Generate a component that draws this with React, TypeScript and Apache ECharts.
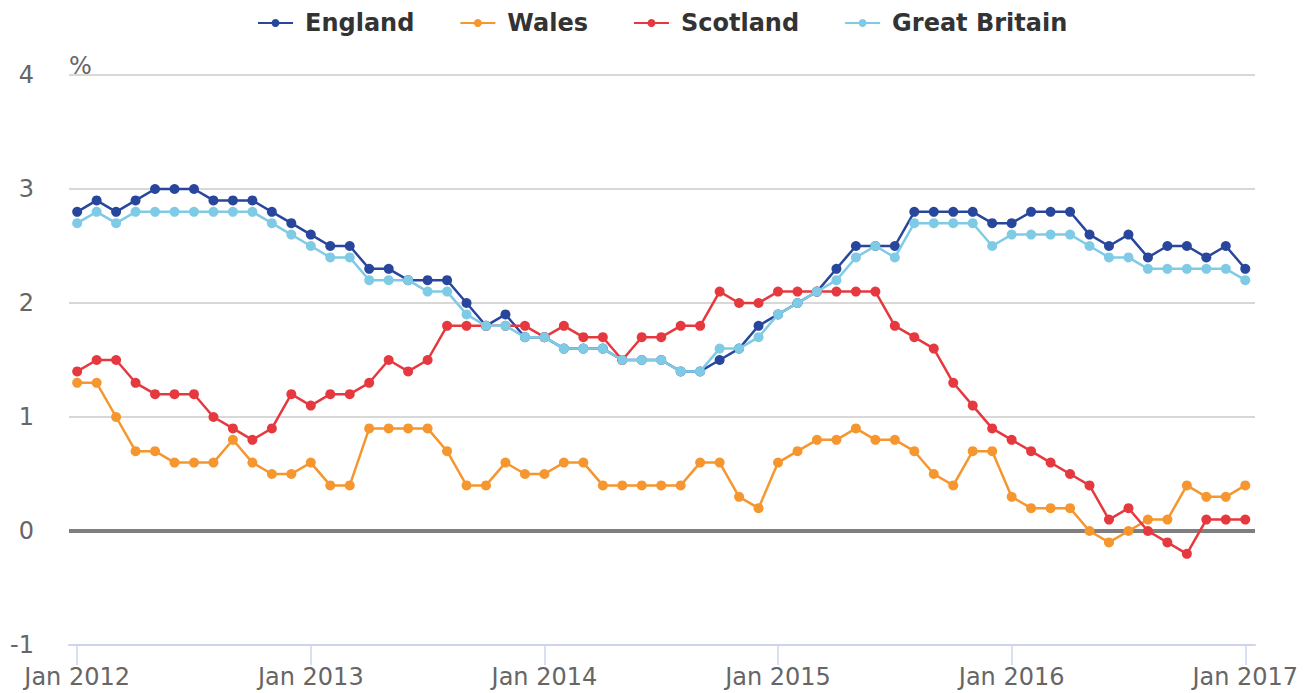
import React, { useEffect, useRef } from "react";
import * as echarts from "echarts";

const tickLabels = ["Jan 2012", "Jan 2013", "Jan 2014", "Jan 2015", "Jan 2016", "Jan 2017"];
const tickIndexes = [0, 12, 24, 36, 48, 60];

const england = [
  2.8, 2.9, 2.8, 2.9, 3.0, 3.0, 3.0, 2.9, 2.9, 2.9,
  2.8, 2.7, 2.6, 2.5, 2.5, 2.3, 2.3, 2.2, 2.2, 2.2,
  2.0, 1.8, 1.9, 1.7, 1.7, 1.6, 1.6, 1.6, 1.5, 1.5,
  1.5, 1.4, 1.4, 1.5, 1.6, 1.8, 1.9, 2.0, 2.1, 2.3,
  2.5, 2.5, 2.5, 2.8, 2.8, 2.8, 2.8, 2.7, 2.7, 2.8,
  2.8, 2.8, 2.6, 2.5, 2.6, 2.4, 2.5, 2.5, 2.4, 2.5, 2.3,
];
const wales = [
  1.3, 1.3, 1.0, 0.7, 0.7, 0.6, 0.6, 0.6, 0.8, 0.6,
  0.5, 0.5, 0.6, 0.4, 0.4, 0.9, 0.9, 0.9, 0.9, 0.7,
  0.4, 0.4, 0.6, 0.5, 0.5, 0.6, 0.6, 0.4, 0.4, 0.4,
  0.4, 0.4, 0.6, 0.6, 0.3, 0.2, 0.6, 0.7, 0.8, 0.8,
  0.9, 0.8, 0.8, 0.7, 0.5, 0.4, 0.7, 0.7, 0.3, 0.2,
  0.2, 0.2, 0.0, -0.1, 0.0, 0.1, 0.1, 0.4, 0.3, 0.3, 0.4,
];
const scotland = [
  1.4, 1.5, 1.5, 1.3, 1.2, 1.2, 1.2, 1.0, 0.9, 0.8,
  0.9, 1.2, 1.1, 1.2, 1.2, 1.3, 1.5, 1.4, 1.5, 1.8,
  1.8, 1.8, 1.8, 1.8, 1.7, 1.8, 1.7, 1.7, 1.5, 1.7,
  1.7, 1.8, 1.8, 2.1, 2.0, 2.0, 2.1, 2.1, 2.1, 2.1,
  2.1, 2.1, 1.8, 1.7, 1.6, 1.3, 1.1, 0.9, 0.8, 0.7,
  0.6, 0.5, 0.4, 0.1, 0.2, 0.0, -0.1, -0.2, 0.1, 0.1, 0.1,
];
const greatBritain = [
  2.7, 2.8, 2.7, 2.8, 2.8, 2.8, 2.8, 2.8, 2.8, 2.8,
  2.7, 2.6, 2.5, 2.4, 2.4, 2.2, 2.2, 2.2, 2.1, 2.1,
  1.9, 1.8, 1.8, 1.7, 1.7, 1.6, 1.6, 1.6, 1.5, 1.5,
  1.5, 1.4, 1.4, 1.6, 1.6, 1.7, 1.9, 2.0, 2.1, 2.2,
  2.4, 2.5, 2.4, 2.7, 2.7, 2.7, 2.7, 2.5, 2.6, 2.6,
  2.6, 2.6, 2.5, 2.4, 2.4, 2.3, 2.3, 2.3, 2.3, 2.3, 2.2,
];

const seriesNames = ["England", "Wales", "Scotland", "Great Britain"];
const seriesColors = ["#28469c", "#f5962f", "#e6393f", "#7fcbe5"];
const seriesValues = [england, wales, scotland, greatBritain];

const FONT = "DejaVu Sans";

// plot frame in pixels
const GRID_LEFT = 69;
const GRID_RIGHT = 56;
const GRID_TOP = 75;
const GRID_BOTTOM = 48;
const X_MIN = -0.42;
const X_MAX = 60.5;

export default function App() {
  const ref = useRef<HTMLDivElement>(null);
  useEffect(() => {
    document.body.style.margin = "0";
    const chart = echarts.init(ref.current!, null, { renderer: "svg" });
    const plotW = 1311 - GRID_LEFT - GRID_RIGHT;
    const pxPerUnit = plotW / (X_MAX - X_MIN);
    const innerLeft = GRID_LEFT + (0 - X_MIN) * pxPerUnit;
    const innerRight = 1311 - (GRID_LEFT + (60 - X_MIN) * pxPerUnit);

    const series: any[] = seriesValues.map((vals, si) => ({
      name: seriesNames[si],
      type: "line",
      xAxisIndex: 0,
      yAxisIndex: 0,
      data: vals.map((v, i) => [i, v]),
      symbol: "circle",
      symbolSize: 10,
      showSymbol: true,
      itemStyle: { color: seriesColors[si] },
      lineStyle: { color: seriesColors[si], width: 2.5 },
      z: 3 + si,
    }));
    series[0].markLine = {
      silent: true,
      symbol: "none",
      label: { show: false },
      lineStyle: { color: "#7f7f7f", width: 4, type: "solid" },
      data: [{ yAxis: 0 }],
      z: 2,
    };
    chart.setOption({
      animation: false,
      backgroundColor: "#ffffff",
      textStyle: { fontFamily: FONT },
      legend: {
        top: 6,
        left: 252,
        itemWidth: 35,
        itemHeight: 10,
        itemGap: 45,
        textStyle: {
          fontFamily: FONT,
          fontSize: 24,
          fontWeight: "bold",
          color: "#333333",
          padding: [0, 0, 0, 7],
        },
        data: seriesNames,
      },
      graphic: [
        {
          type: "text",
          left: 69,
          top: 54,
          style: { text: "%", fontFamily: FONT, fontSize: 24, fill: "#666666" },
        },
      ],
      grid: [
        { left: GRID_LEFT, right: GRID_RIGHT, top: GRID_TOP, bottom: GRID_BOTTOM, containLabel: false },
        { left: innerLeft, right: innerRight, top: GRID_TOP, bottom: GRID_BOTTOM, containLabel: false },
      ],
      xAxis: [
        {
          type: "value",
          gridIndex: 0,
          min: X_MIN,
          max: X_MAX,
          splitLine: { show: false },
          axisLine: { show: true, onZero: false, lineStyle: { color: "#ccd6eb", width: 2 } },
          axisTick: { show: false },
          axisLabel: { show: false },
        },
        {
          type: "value",
          gridIndex: 1,
          min: 0,
          max: 60,
          interval: 12,
          splitLine: { show: false },
          axisLine: { show: false, onZero: false },
          axisTick: { show: true, length: 20, lineStyle: { color: "#ccd6eb", width: 1.5 } },
          axisLabel: {
            formatter: (v: number) => tickLabels[tickIndexes.indexOf(Math.round(v))] ?? "",
            fontFamily: FONT,
            fontSize: 24,
            color: "#666666",
            margin: 20,
          },
        },
      ],
      yAxis: [
        {
          type: "value",
          gridIndex: 0,
          min: -1,
          max: 4,
          interval: 1,
          axisLine: { show: false },
          axisTick: { show: false },
          splitLine: { lineStyle: { color: "#d8d8d8", width: 2 } },
          axisLabel: {
            fontFamily: FONT,
            fontSize: 24,
            color: "#666666",
            margin: 35,
            padding: [4, 0, 0, 0],
          },
        },
        {
          type: "value",
          gridIndex: 1,
          min: -1,
          max: 4,
          interval: 1,
          show: false,
        },
      ],
      series,
    });
    return () => chart.dispose();
  }, []);
  return <div ref={ref} style={{ width: 1311, height: 693 }} />;
}
